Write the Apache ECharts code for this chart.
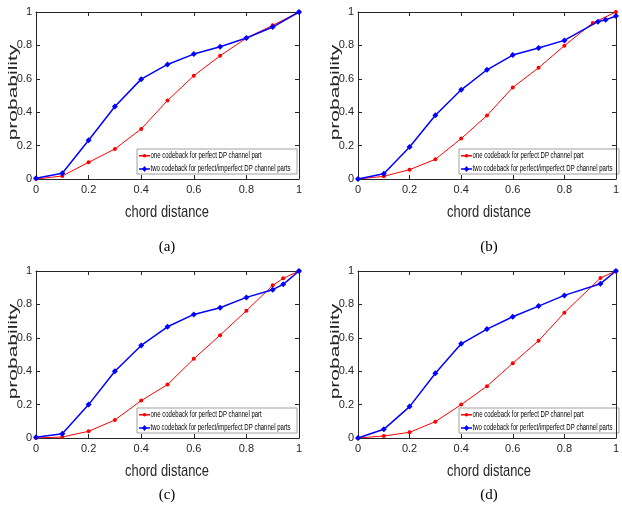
<!DOCTYPE html>
<html><head><meta charset="utf-8">
<script src="https://cdn.jsdelivr.net/npm/echarts@6/dist/echarts.min.js"></script>
<style>html,body{margin:0;padding:0;background:#fff}#c{width:622px;height:515px}</style>
</head><body><div id="c"></div><script>
// ---- data ----
const seriesNames = ['one codeback for perfect DP channel part', 'two codeback for perfect/imperfect DP channel parts'];
const panelLabels = ['(a)', '(b)', '(c)', '(d)'];
const xLabel = 'chord distance';
const yLabel = 'probability';
const tickValues = [0, 0.2, 0.4, 0.6, 0.8, 1];

const aRedX  = [0, 0.1, 0.2, 0.3, 0.4, 0.5, 0.6, 0.7, 0.8, 0.9, 1];
const aRedY  = [0, 0.018, 0.10, 0.18, 0.30, 0.47, 0.618, 0.738, 0.844, 0.92, 1.0];
const aBlueX = [0, 0.1, 0.2, 0.3, 0.4, 0.5, 0.6, 0.7, 0.8, 0.9, 1];
const aBlueY = [0.004, 0.034, 0.232, 0.434, 0.598, 0.686, 0.748, 0.792, 0.844, 0.91, 1.0];

const bRedX  = [0, 0.1, 0.2, 0.3, 0.4, 0.5, 0.6, 0.7, 0.8, 0.91, 1];
const bRedY  = [0, 0.016, 0.056, 0.118, 0.242, 0.38, 0.548, 0.666, 0.798, 0.934, 1.0];
const bBlueX = [0, 0.1, 0.2, 0.3, 0.4, 0.5, 0.6, 0.7, 0.8, 0.93, 0.96, 1];
const bBlueY = [0, 0.032, 0.192, 0.382, 0.534, 0.654, 0.742, 0.784, 0.83, 0.942, 0.953, 0.976];

const cRedX  = [0, 0.1, 0.2, 0.3, 0.4, 0.5, 0.6, 0.7, 0.8, 0.9, 0.94, 1];
const cRedY  = [0, 0.006, 0.04, 0.108, 0.224, 0.32, 0.474, 0.616, 0.762, 0.914, 0.956, 1.0];
const cBlueX = [0, 0.1, 0.2, 0.3, 0.4, 0.5, 0.6, 0.7, 0.8, 0.9, 0.94, 1];
const cBlueY = [0.004, 0.026, 0.2, 0.40, 0.554, 0.666, 0.74, 0.78, 0.842, 0.888, 0.92, 1.0];

const dRedX  = [0, 0.1, 0.2, 0.3, 0.4, 0.5, 0.6, 0.7, 0.8, 0.94, 1];
const dRedY  = [0, 0.012, 0.034, 0.098, 0.2, 0.31, 0.448, 0.582, 0.75, 0.958, 1.0];
const dBlueX = [0, 0.1, 0.2, 0.3, 0.4, 0.5, 0.6, 0.7, 0.8, 0.94, 1];
const dBlueY = [0, 0.052, 0.188, 0.388, 0.564, 0.652, 0.726, 0.79, 0.854, 0.924, 1.0];

// ---- layout ----
const panels = [
  {rx: aRedX, ry: aRedY, bx: aBlueX, by: aBlueY, left: 36,  top: 12,  width: 263, height: 167},
  {rx: bRedX, ry: bRedY, bx: bBlueX, by: bBlueY, left: 358, top: 12,  width: 263, height: 167},
  {rx: cRedX, ry: cRedY, bx: cBlueX, by: cBlueY, left: 36,  top: 271, width: 263, height: 167},
  {rx: dRedX, ry: dRedY, bx: dBlueX, by: dBlueY, left: 358, top: 271, width: 263, height: 167}
];
const SANS = '"Liberation Sans", Arial, sans-serif';
const AX = '#262626';
const RED = '#ff0000', BLUE = '#0000ff';
const zip = (xs, ys) => xs.map((x, i) => [x, ys[i]]);
const fmt = v => (v === 0 ? '0' : v === 1 ? '1' : v.toFixed(1));

const grid = [], xAxis = [], yAxis = [], series = [], graphic = [];
panels.forEach((p, i) => {
  grid.push({left: p.left, top: p.top, width: p.width, height: p.height, show: false});
  const base = {type: 'value', gridIndex: i, min: 0, max: 1, interval: 0.2,
    splitLine: {show: false},
    axisLine: {show: true, onZero: false, lineStyle: {color: AX, width: 1}},
    axisTick: {show: true, inside: true, length: 4, lineStyle: {color: AX}}};
  xAxis.push(Object.assign({}, base, {position: 'bottom',
    axisLabel: {formatter: fmt, color: AX, fontSize: 11, fontFamily: SANS, margin: 5, showMaxLabel: true}}));
  xAxis.push(Object.assign({}, base, {position: 'top', axisLabel: {show: false}}));
  yAxis.push(Object.assign({}, base, {position: 'left',
    axisLabel: {formatter: fmt, color: AX, fontSize: 11, fontFamily: SANS, margin: 4}}));
  yAxis.push(Object.assign({}, base, {position: 'right', axisLabel: {show: false}}));
  series.push({name: seriesNames[0], type: 'line', xAxisIndex: 2 * i, yAxisIndex: 2 * i,
    data: zip(p.rx, p.ry), symbol: 'circle', symbolSize: 4, z: 3,
    lineStyle: {color: RED, width: 1}, itemStyle: {color: RED}});
  series.push({name: seriesNames[1], type: 'line', xAxisIndex: 2 * i, yAxisIndex: 2 * i,
    data: zip(p.bx, p.by), symbol: 'diamond', symbolSize: 6, z: 4,
    lineStyle: {color: BLUE, width: 1.5}, itemStyle: {color: BLUE}});

  // axis titles (condensed like the original rendering)
  graphic.push({type: 'text', x: p.left - 22, y: p.top + 80.5, rotation: Math.PI / 2, scaleY: 0.6,
    style: {text: yLabel, fontSize: 21, fontFamily: SANS, fill: AX, align: 'center', verticalAlign: 'middle'}});
  graphic.push({type: 'text', x: p.left + 131, y: p.top + 200, scaleX: 0.76,
    style: {text: xLabel, fontSize: 17, fontFamily: SANS, fill: AX, align: 'center', verticalAlign: 'middle'}});
  graphic.push({type: 'text', x: p.left + 131, y: p.top + (i < 2 ? 235 : 224),
    style: {text: panelLabels[i], fontSize: 15, fontFamily: '"Liberation Serif", "Times New Roman", serif',
      fill: '#000', align: 'center', verticalAlign: 'middle'}});

  // legend box
  const lx = p.left + 101, ly = p.top + 137;
  graphic.push({type: 'group', x: lx, y: ly, z: 10, children: [
    {type: 'rect', shape: {x: 0, y: 0, width: 160, height: 25},
      style: {fill: '#fff', stroke: '#a0a0a0', lineWidth: 1}},
    {type: 'line', shape: {x1: 2, y1: 6.8, x2: 13, y2: 6.8}, style: {stroke: RED, lineWidth: 1.5}},
    {type: 'circle', shape: {cx: 7.5, cy: 6.8, r: 1.8}, style: {fill: RED}},
    {type: 'text', x: 13.5, y: 6.8, scaleX: 0.67,
      style: {text: seriesNames[0], fontSize: 9, fontFamily: SANS, fill: '#000', align: 'left', verticalAlign: 'middle'}},
    {type: 'line', shape: {x1: 2, y1: 20, x2: 13, y2: 20}, style: {stroke: BLUE, lineWidth: 1.5}},
    {type: 'polygon', shape: {points: [[7.5, 17], [10, 20], [7.5, 23], [5, 20]]}, style: {fill: BLUE}},
    {type: 'text', x: 13.5, y: 20, scaleX: 0.67,
      style: {text: seriesNames[1], fontSize: 9, fontFamily: SANS, fill: '#000', align: 'left', verticalAlign: 'middle'}}
  ]});
});

const chart = echarts.init(document.getElementById('c'), null, {renderer: 'canvas'});
chart.setOption({animation: false, backgroundColor: '#fff', grid, xAxis, yAxis, series, graphic});
</script></body></html>
